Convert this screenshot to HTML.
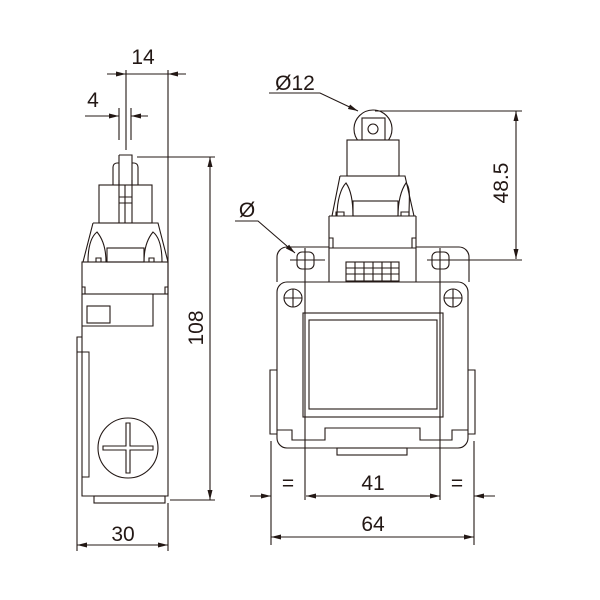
<!DOCTYPE html>
<html><head><meta charset="utf-8"><style>
html,body{margin:0;padding:0;background:#fff;}
svg{display:block;}
text{font-family:"Liberation Sans",sans-serif;fill:#231815;}
</style></head><body>
<svg width="600" height="600" viewBox="0 0 600 600" xmlns="http://www.w3.org/2000/svg">
<defs>
<marker id="a" markerWidth="10" markerHeight="6" refX="10" refY="3" orient="auto" markerUnits="userSpaceOnUse">
<path d="M0,0.5 L10,3 L0,5.5 Z" fill="#231815"/></marker>
</defs>
<g fill="none" stroke="#231815" stroke-width="1.1">
<!-- LEFT VIEW -->
<path d="M119,223 V180 M132,223 V180"/>
<path d="M119,163 h-2 a4,4 0 0 0 -4,4 v18 M132,163 h2 a4,4 0 0 1 4,4 v18"/>
<path d="M119,155 H132 V185 M119,155 V185"/>
<path d="M125,185 V223 M119,197 H132 M119,203 H132"/>
<rect x="99" y="185" width="53" height="38"/>
<path d="M93,223 H158 L168,262 M93,223 L83,262"/>
<path d="M88,262 C88,245 92,236 97,232 C102,238 106,248 106,262"/>
<path d="M144,262 C144,248 148,238 153,232 C158,236 162,245 162,262"/>
<rect x="107" y="248" width="37" height="14"/>
<path d="M96,262 v-4 h5 v4 M149,262 v-4 h5 v4"/>
<rect x="82" y="262" width="86" height="32"/>
<path d="M82,287 h3 v7 M168,287 h-3 v7"/>
<path d="M82,294 V496 H168 V294"/>
<path d="M153,294 V326 H82"/>
<rect x="87" y="306" width="23" height="17"/>
<rect x="77" y="337" width="5" height="15" stroke-width="1"/>
<rect x="82" y="352" width="7" height="125" stroke-width="1"/>
<rect x="94" y="496" width="71" height="7"/>
<circle cx="128" cy="448" r="30"/>
<path d="M126,423 h4 v23 h23 v4 h-23 v23 h-4 v-23 h-23 v-4 h23 Z"/>
<path d="M77,337 V551 M168,70 V294 M168,503 V551 M119,108 V140 M126,70 V150 M131,108 V140"/>
<path d="M137,157 H215 M170,500 H215"/>
<path d="M107,74 H126" marker-end="url(#a)"/>
<path d="M186,74 H168" marker-end="url(#a)"/>
<path d="M126,74 H168"/>
<path d="M85,116 H119" marker-end="url(#a)"/>
<path d="M148,116 H131" marker-end="url(#a)"/>
<path d="M210,329 V157" marker-end="url(#a)"/>
<path d="M210,329 V500" marker-end="url(#a)"/>
<path d="M122,545 H77" marker-end="url(#a)"/>
<path d="M122,545 H168" marker-end="url(#a)"/>

<!-- RIGHT VIEW -->
<circle cx="373" cy="129" r="19"/>
<rect x="362" y="118" width="23" height="22" fill="#fff"/>
<circle cx="373" cy="129" r="5"/>
<rect x="347" y="140" width="52" height="36" fill="#fff"/>
<path d="M340,176 H405 L414,216 M340,176 L332,216"/>
<path d="M337,216 C337,200 341,188 346,183 C351,190 353,202 353,216"/>
<path d="M398,216 C398,202 401,190 406,183 C411,188 409,200 409,216"/>
<rect x="353" y="201" width="45" height="15"/>
<path d="M336,216 v-4 h8 v4 M401,216 v-4 h8 v4"/>
<path d="M329,216 H416 M329,216 V282 M416,216 V282"/>
<path d="M329,248 H416 M329,238 h4 v10 M416,238 h-4 v10"/>
<rect x="346" y="262" width="53" height="19"/>
<path d="M355,262v19 M364,262v19 M373,262v19 M382,262v19 M391,262v19 M346,268h53 M346,274h53"/>
<path d="M329,247 H287 a10,10 0 0 0 -10,10 V282 M416,247 H459 a10,10 0 0 1 10,10 V282"/>
<rect x="297" y="252" width="17" height="17" rx="5"/>
<rect x="432" y="252" width="17" height="17" rx="5"/>
<path d="M290,260 H325 M427,260 H522 M305,248 V500 M440,248 V500"/>
<path d="M277,292 a10,10 0 0 1 10,-10 H458 a10,10 0 0 1 10,10 V438 a10,10 0 0 1 -10,10 H287 a10,10 0 0 1 -10,-10 Z"/>
<circle cx="293" cy="298" r="9"/>
<path d="M284,298 h18 M293,289 v18"/>
<circle cx="453" cy="298" r="9"/>
<path d="M444,298 h18 M453,289 v18"/>
<rect x="303" y="313" width="140" height="104"/>
<rect x="309" y="320" width="128" height="89"/>
<path d="M277,430 H292 V440 H325 V428 H420 V440 H452 V430 H468"/>
<path d="M277,370 H270 V434 H277 M468,370 H475 V434 H468"/>
<rect x="337" y="448" width="70" height="7"/>
<path d="M375,111 H522"/>
<path d="M516,185 V111" marker-end="url(#a)"/>
<path d="M516,185 V259" marker-end="url(#a)"/>
<path d="M269,93 H320 L358,111" marker-end="url(#a)"/>
<path d="M235,221 H258 L295,253" marker-end="url(#a)"/>
<path d="M271,441 V545 M474,441 V545"/>
<path d="M250,496 H271" marker-end="url(#a)"/>
<path d="M373,496 H306" marker-end="url(#a)"/>
<path d="M373,496 H440" marker-end="url(#a)"/>
<path d="M495,496 H474" marker-end="url(#a)"/>
<path d="M373,537 H271" marker-end="url(#a)"/>
<path d="M373,537 H474" marker-end="url(#a)"/>
</g>
<g font-size="21">
<text x="143" y="64" text-anchor="middle">14</text>
<text x="93" y="107" text-anchor="middle">4</text>
<text x="123" y="541" text-anchor="middle">30</text>
<text x="0" y="0" text-anchor="middle" transform="translate(203,328) rotate(-90)">108</text>
<text x="0" y="0" text-anchor="middle" transform="translate(508,183) rotate(-90)">48.5</text>
<text x="295" y="90" text-anchor="middle">Ø12</text>
<text x="247" y="217" text-anchor="middle">Ø</text>
<text x="288" y="490" text-anchor="middle">=</text>
<text x="373" y="490" text-anchor="middle">41</text>
<text x="457" y="490" text-anchor="middle">=</text>
<text x="373" y="531" text-anchor="middle">64</text>
</g>
</svg>
</body></html>
